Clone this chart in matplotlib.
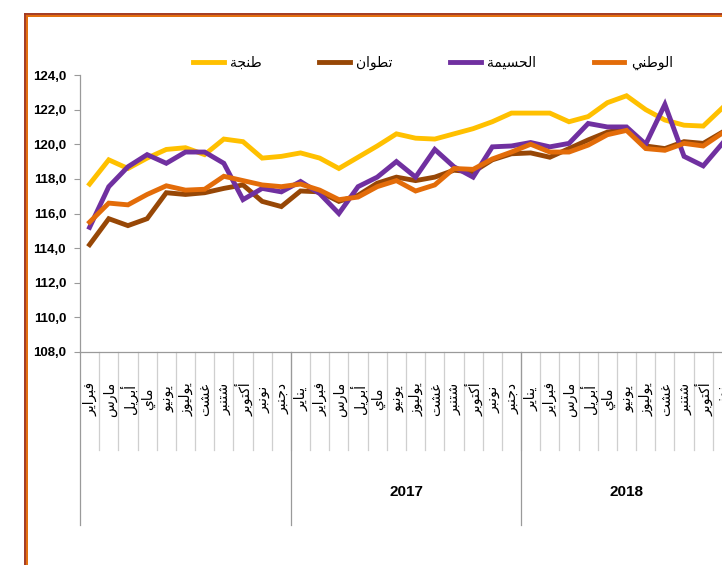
import matplotlib
matplotlib.use('Agg')
import matplotlib.pyplot as plt
import matplotlib.transforms as mtransforms
from matplotlib.lines import Line2D
from matplotlib.ticker import FuncFormatter, MultipleLocator

# months shown on the axis (Feb 2016 .. Nov 2018)
months_2016 = ['فبراير', 'مارس', 'أبريل', 'ماي', 'يونيو', 'يوليوز', 'غشت',
               'شتنبر', 'أكتوبر', 'نونبر', 'دجنبر']
months_full = ['يناير'] + months_2016
month_labels = months_2016 + months_full + months_full[:11]

year_labels = ['', '2017', '2018']
year_sizes = [11, 12, 11]

series_names = ['طنجة', 'تطوان', 'الحسيمة', 'الوطني']
series_colors = ['#FFC000', '#974706', '#7030A0', '#E36C09']

tanger = [117.7, 119.1, 118.6, 119.2, 119.7, 119.8, 119.4, 120.3, 120.15, 119.2,
          119.3, 119.5, 119.2, 118.6, 119.25, 119.9, 120.6, 120.35, 120.3, 120.6,
          120.9, 121.3, 121.8, 121.8, 121.8, 121.3, 121.6, 122.4, 122.8, 122.0,
          121.4, 121.1, 121.05, 122.1]
tetouan = [114.2, 115.7, 115.3, 115.7, 117.2, 117.1, 117.2, 117.45, 117.65, 116.7,
           116.4, 117.3, 117.25, 116.7, 117.05, 117.75, 118.1, 117.9, 118.1, 118.5,
           118.4, 119.1, 119.45, 119.5, 119.25, 119.75, 120.25, 120.7, 120.9, 119.9,
           119.75, 120.15, 120.05, 120.7]
alhoceima = [115.2, 117.55, 118.7, 119.4, 118.9, 119.55, 119.55, 118.9, 116.8, 117.45,
             117.25, 117.85, 117.15, 116.0, 117.55, 118.1, 119.0, 118.1, 119.7, 118.7,
             118.1, 119.85, 119.9, 120.1, 119.85, 120.05, 121.2, 121.0, 121.0, 120.0,
             122.3, 119.3, 118.75, 120.05]
national = [115.5, 116.6, 116.5, 117.1, 117.6, 117.35, 117.4, 118.15, 117.9, 117.65,
            117.55, 117.7, 117.35, 116.8, 116.95, 117.55, 117.9, 117.3, 117.65, 118.6,
            118.55, 119.15, 119.55, 120.0, 119.55, 119.55, 119.95, 120.55, 120.8, 119.75,
            119.65, 120.05, 119.9, 120.65]

# simple arabic shaping (matplotlib does not join letters by itself)
FORMS = {
    'ا': (0xFE8D, 0xFE8E, None, None), 'أ': (0xFE83, 0xFE84, None, None),
    'ب': (0xFE8F, 0xFE90, 0xFE91, 0xFE92), 'ة': (0xFE93, 0xFE94, None, None),
    'ت': (0xFE95, 0xFE96, 0xFE97, 0xFE98), 'ج': (0xFE9D, 0xFE9E, 0xFE9F, 0xFEA0),
    'ح': (0xFEA1, 0xFEA2, 0xFEA3, 0xFEA4), 'د': (0xFEA9, 0xFEAA, None, None),
    'ر': (0xFEAD, 0xFEAE, None, None), 'ز': (0xFEAF, 0xFEB0, None, None),
    'س': (0xFEB1, 0xFEB2, 0xFEB3, 0xFEB4), 'ش': (0xFEB5, 0xFEB6, 0xFEB7, 0xFEB8),
    'ط': (0xFEC1, 0xFEC2, 0xFEC3, 0xFEC4), 'غ': (0xFECD, 0xFECE, 0xFECF, 0xFED0),
    'ف': (0xFED1, 0xFED2, 0xFED3, 0xFED4), 'ك': (0xFED9, 0xFEDA, 0xFEDB, 0xFEDC),
    'ل': (0xFEDD, 0xFEDE, 0xFEDF, 0xFEE0), 'م': (0xFEE1, 0xFEE2, 0xFEE3, 0xFEE4),
    'ن': (0xFEE5, 0xFEE6, 0xFEE7, 0xFEE8), 'و': (0xFEED, 0xFEEE, None, None),
    'ي': (0xFEF1, 0xFEF2, 0xFEF3, 0xFEF4),
}


def ar(text):
    out = []
    for i, c in enumerate(text):
        if c not in FORMS:
            out.append(c)
            continue
        prev_joins = i > 0 and text[i - 1] in FORMS and FORMS[text[i - 1]][2] is not None
        next_joins = (i < len(text) - 1 and text[i + 1] in FORMS
                      and FORMS[c][2] is not None)
        iso, fin, ini, med = FORMS[c]
        if prev_joins and next_joins:
            out.append(chr(med))
        elif prev_joins:
            out.append(chr(fin))
        elif next_joins:
            out.append(chr(ini))
        else:
            out.append(chr(iso))
    return ''.join(reversed(out))


NUM_FONT = ['Liberation Sans', 'DejaVu Sans']

W, H = 722, 565
fig = plt.figure(figsize=(W / 100, H / 100), dpi=100)
fig.patch.set_facecolor('white')

# plot area: x 80..732 px, y 75..352 px
ax_h = 277
ax = fig.add_axes([80 / W, (H - 352) / H, 652 / W, ax_h / H])

x = list(range(len(month_labels)))
for vals, name, col in zip([tanger, tetouan, alhoceima, national], series_names, series_colors):
    ax.plot(x, vals, color=col, lw=3.5, solid_joinstyle='miter', label=ar(name))

ax.set_xlim(-0.5, len(month_labels) - 0.5)
ax.set_ylim(108, 124)
ax.yaxis.set_major_locator(MultipleLocator(2))
ax.yaxis.set_major_formatter(FuncFormatter(lambda v, p: f'{v:.1f}'.replace('.', ',')))

for s in ['top', 'right']:
    ax.spines[s].set_visible(False)
for s in ['left', 'bottom']:
    ax.spines[s].set_color('#9a9a9a')
    ax.spines[s].set_linewidth(0.9)
ax.tick_params(axis='y', direction='out', length=4, color='#9a9a9a', pad=6)
ax.tick_params(axis='x', length=0, labelbottom=False)
for lab in ax.get_yticklabels():
    lab.set_family(NUM_FONT)
    lab.set_fontweight('bold')
    lab.set_fontsize(9.5)

# multi-level category axis
trans = mtransforms.blended_transform_factory(ax.transData, ax.transAxes)
sep_short = -98 / ax_h
sep_long = -173 / ax_h
for i in range(1, len(month_labels)):
    ax.plot([i - 0.5, i - 0.5], [0, sep_short], transform=trans, color='#cfcfcf',
            lw=0.9, clip_on=False)
for i, lab in enumerate(month_labels):
    ax.text(i + 0.05, -47 / ax_h, ar(lab), transform=trans, rotation=90, ha='center',
            va='center', fontsize=10, family='DejaVu Sans')

start = 0
for yl, n in zip(year_labels, year_sizes):
    ax.plot([start - 0.5, start - 0.5], [0, sep_long], transform=trans,
            color='#9a9a9a', lw=0.9, clip_on=False)
    if yl:
        ax.text(start + (n - 1) / 2, -140 / ax_h, yl, transform=trans, ha='center',
                va='center', fontsize=11, fontweight='bold', family=NUM_FONT)
    start += n

leg = fig.legend(loc='center', bbox_to_anchor=(433 / W, (H - 63) / H), ncol=4,
                 frameon=False, handlelength=2.2, handletextpad=0.45,
                 columnspacing=4.15, prop={'family': 'DejaVu Sans', 'size': 10})

# chart frame (top and left border)
fig.add_artist(Line2D([25 / W, 25 / W], [0, (H - 14) / H], color='#a33a22', lw=1.4))
fig.add_artist(Line2D([27 / W, 27 / W], [0, (H - 16) / H], color='#e46c0a', lw=1.4))
fig.add_artist(Line2D([25 / W, 1], [(H - 14) / H, (H - 14) / H], color='#a33a22', lw=1.4))
fig.add_artist(Line2D([27 / W, 1], [(H - 16) / H, (H - 16) / H], color='#e46c0a', lw=1.4))

fig.savefig('out.png', dpi=100)
